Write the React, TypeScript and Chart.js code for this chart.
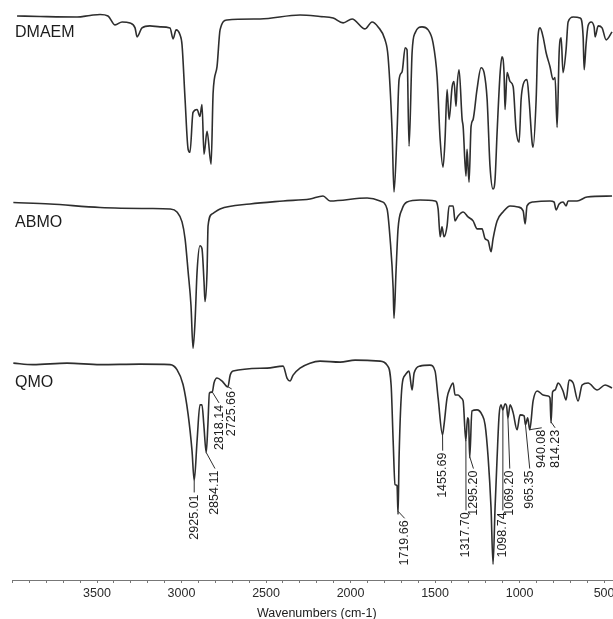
import React, { useEffect, useRef } from "react";
import { Chart, registerables } from "chart.js";

Chart.register(...registerables);

// [wavenumber (cm-1), offset transmittance (arb. units)]
const dmaem: [number, number][] = [
  [3973, 113.4], [3837, 113.3], [3618, 113.2], [3541, 113.5], [3482, 113.7], [3435, 113.4],
  [3393, 111.6], [3352, 112.2], [3305, 112], [3275, 111], [3263, 109.2], [3234, 111],
  [3187, 111.4], [3127, 111.2], [3068, 111], [3050, 108.8], [3032, 110.6], [3009, 109.6],
  [2997, 107.6], [2979, 96.6], [2961, 86.6], [2950, 86], [2932, 94], [2908, 94.6],
  [2891, 93.2], [2879, 95.6], [2867, 85.6], [2849, 90.2], [2825, 83.6], [2813, 98],
  [2790, 103.2], [2772, 110.6], [2731, 112.6], [2535, 112.8], [2299, 113.6], [2181, 113.3],
  [2103, 113], [2044, 112], [1991, 112.8], [1914, 110.8], [1873, 112.2], [1837, 111.2],
  [1796, 108.6], [1778, 105.2], [1754, 90], [1743, 78], [1725, 90], [1713, 100.6],
  [1695, 102.2], [1677, 107], [1666, 106.6], [1654, 87.2], [1636, 106], [1618, 110],
  [1577, 111.2], [1541, 110.6], [1512, 108], [1488, 101.2], [1470, 88.6], [1453, 83],
  [1441, 88.6], [1429, 98.6], [1417, 92.6], [1399, 99.2], [1388, 100.2], [1376, 95.2],
  [1370, 99.2], [1358, 102.6], [1340, 92.6], [1334, 91.2], [1317, 81.2], [1311, 86.6],
  [1299, 80], [1287, 91.2], [1275, 92.6], [1252, 98.6], [1228, 103], [1210, 102],
  [1192, 96.6], [1175, 83.2], [1157, 78.6], [1145, 80.6], [1133, 90], [1115, 102],
  [1104, 105.2], [1092, 102], [1086, 94.6], [1074, 102], [1056, 100.2], [1038, 99.2],
  [1021, 90.6], [1003, 88], [991, 96.6], [979, 99.6], [956, 100.6], [944, 96.6],
  [926, 88], [920, 87], [902, 96.6], [891, 109.2], [879, 111], [861, 109.2],
  [843, 106], [820, 103.2], [802, 100.6], [790, 101], [778, 91], [766, 106],
  [754, 109], [743, 102], [725, 106.6], [713, 112.2], [683, 113.2], [642, 113],
  [624, 109.2], [618, 102.6], [607, 107.6], [595, 111.4], [577, 112.2], [559, 111.2],
  [553, 109.2], [535, 111.4], [512, 111], [488, 108.6], [453, 110.2],
];

const abmo: [number, number][] = [
  [3995, 75.9], [3778, 75.6], [3482, 74.9], [3187, 74.7], [3068, 74.6], [3027, 74],
  [2997, 72], [2979, 68.6], [2961, 62], [2944, 55.2], [2932, 46.6], [2920, 52],
  [2908, 62], [2891, 67.2], [2879, 66.6], [2867, 60], [2861, 56], [2849, 62],
  [2843, 71.2], [2819, 73.6], [2772, 74.6], [2595, 75.6], [2399, 76.2], [2240, 76.6],
  [2163, 77.2], [2121, 76.2], [1902, 76.8], [1825, 76.2], [1784, 74.6], [1766, 68.6],
  [1748, 58.6], [1743, 52.6], [1731, 62], [1719, 70.6], [1695, 74.6], [1666, 76],
  [1589, 76.4], [1500, 76.2], [1482, 74.6], [1470, 69], [1459, 71], [1447, 69],
  [1429, 71.2], [1417, 75.2], [1393, 75.2], [1382, 72.2], [1364, 73.2], [1334, 74],
  [1305, 73], [1275, 72.2], [1251, 70.6], [1222, 70.6], [1204, 68.6], [1186, 68.2],
  [1169, 66], [1157, 68.6], [1133, 72.2], [1098, 74], [1056, 75.2], [1009, 75],
  [979, 74.2], [967, 71.6], [956, 75.2], [920, 76], [820, 76.2], [796, 76],
  [784, 74.4], [766, 75.6], [743, 76], [725, 75.2], [713, 76.2], [660, 76.2],
  [601, 77], [453, 77.2],
];

const qmo: [number, number][] = [
  [3995, 43.6], [3879, 43.3], [3677, 43.6], [3482, 43.3], [3246, 43.4], [3068, 43.3],
  [3027, 42.3], [2991, 39.3], [2961, 33.3], [2938, 26], [2925, 20], [2908, 28],
  [2891, 35.2], [2879, 35.2], [2868, 31.2], [2854, 25.6], [2844, 31.2], [2835, 37.6],
  [2818, 37.8], [2808, 39.6], [2790, 40.6], [2760, 40], [2726, 38.8], [2712, 41.2],
  [2695, 42], [2494, 42.6], [2399, 43], [2376, 40.6], [2358, 40], [2340, 41.2],
  [2299, 42.6], [2240, 43.6], [2181, 44], [2062, 43.8], [1973, 44.2], [1825, 44],
  [1784, 43.2], [1760, 39.2], [1748, 28], [1737, 19.2], [1725, 19], [1719, 13.2],
  [1713, 24.6], [1695, 39.2], [1677, 41.2], [1654, 42], [1636, 38.2], [1624, 41.6],
  [1589, 43], [1530, 43.2], [1500, 42], [1482, 36.6], [1456, 29.2], [1447, 31.2],
  [1429, 36.6], [1411, 38.6], [1393, 39.6], [1382, 37.2], [1364, 37.2], [1346, 36.6],
  [1334, 36], [1318, 28], [1308, 32.6], [1302, 32.2], [1295, 24.6], [1282, 34],
  [1252, 34.2], [1222, 33.2], [1204, 31.2], [1186, 24.6], [1169, 14.6], [1157, 3.2],
  [1145, 14.6], [1133, 24.6], [1121, 33.2], [1110, 35.2], [1099, 34.2], [1086, 35.4],
  [1077, 35], [1069, 32.6], [1056, 35.2], [1038, 33.6], [1015, 30.2], [997, 33.2],
  [973, 33], [965, 31.2], [952, 32.6], [940, 30.2], [920, 36], [896, 38],
  [861, 37.2], [831, 37], [820, 36.6], [814, 31.6], [805, 37.8], [790, 38.2],
  [772, 39.6], [743, 38], [725, 36.2], [707, 40.2], [683, 39.6], [654, 36],
  [630, 39.2], [595, 39.6], [541, 38.2], [494, 39.2], [453, 38.6],
];

const seriesNames = ["DMAEM", "ABMO", "QMO"];
const seriesSpectra = [dmaem, abmo, qmo];
const nameAnchorWn = 3985;
const nameBaselines = [109.1, 71, 38.9];

const peakWavenumbers = [2925.01, 2854.11, 2818.14, 2725.66, 1719.66, 1455.69, 1317.7, 1295.2, 1098.74, 1069.2, 965.35, 940.08, 814.23];
const peakTextCenterWn = [2925, 2802, 2778, 2703, 1680, 1455, 1317, 1273, 1099, 1058, 940, 869, 790];
const peakTextTopLevels = [17.2, 22, 35.2, 38, 12, 25.6, 13.6, 22, 13.6, 22, 22, 30.2, 30.2];

const xTickLabels = [3500, 3000, 2500, 2000, 1500, 1000, 500];
const xMin = 400;
const xMax = 4000;
const minorTickStep = 100;

const FONT = "'Liberation Sans', Arial, Helvetica, sans-serif";
const INK = "#2e2e2e";

function valueAt(data: [number, number][], wn: number): number {
  for (let i = 0; i < data.length - 1; i++) {
    const [x0, y0] = data[i];
    const [x1, y1] = data[i + 1];
    if ((wn <= x0 && wn >= x1) || (wn >= x0 && wn <= x1)) {
      if (x0 === x1) return Math.min(y0, y1);
      return y0 + ((wn - x0) / (x1 - x0)) * (y1 - y0);
    }
  }
  return data[data.length - 1][1];
}

export default function App() {
  const ref = useRef<HTMLCanvasElement>(null);

  useEffect(() => {
    const canvas = ref.current;
    if (!canvas) return;

    const annotations = {
      id: "irAnnotations",
      afterDatasetsDraw(chart: any) {
        const { ctx } = chart;
        const x = chart.scales.x;
        const y = chart.scales.y;
        ctx.save();
        ctx.fillStyle = "#1c1c1c";
        ctx.font = `16px ${FONT}`;
        ctx.textAlign = "left";
        ctx.textBaseline = "alphabetic";
        seriesNames.forEach((n, i) => {
          ctx.fillText(n, x.getPixelForValue(nameAnchorWn), y.getPixelForValue(nameBaselines[i]));
        });

        ctx.strokeStyle = INK;
        ctx.lineWidth = 1;
        ctx.font = `12.5px ${FONT}`;
        peakWavenumbers.forEach((wn, i) => {
          const px = x.getPixelForValue(wn);
          const py = y.getPixelForValue(valueAt(qmo, wn));
          const tx = x.getPixelForValue(peakTextCenterWn[i]);
          const ty = y.getPixelForValue(peakTextTopLevels[i]);
          ctx.beginPath();
          ctx.moveTo(px, py);
          ctx.lineTo(tx, ty - 2);
          ctx.stroke();
          ctx.save();
          ctx.translate(tx, ty);
          ctx.rotate(-Math.PI / 2);
          ctx.textAlign = "right";
          ctx.textBaseline = "middle";
          ctx.fillText(wn.toFixed(2), 0, 0);
          ctx.restore();
        });
        ctx.restore();
      },
    };

    const chart = new Chart(canvas, {
      type: "line",
      data: {
        datasets: seriesSpectra.map((s, i) => ({
          label: seriesNames[i],
          data: s.map(([wx, wy]) => ({ x: wx, y: wy })),
          borderColor: INK,
          borderWidth: 1.6,
          pointRadius: 0,
          cubicInterpolationMode: "monotone",
          fill: false,
        })),
      },
      options: {
        responsive: false,
        maintainAspectRatio: false,
        animation: false,
        events: [],
        layout: { padding: { left: 12.5, right: 4, top: 8, bottom: 0 } },
        plugins: {
          legend: { display: false },
          tooltip: { enabled: false },
        },
        scales: {
          x: {
            type: "linear",
            reverse: true,
            min: xMin,
            max: xMax,
            afterBuildTicks: (axis: any) => {
              const t: { value: number }[] = [];
              for (let v = xMin; v <= xMax; v += minorTickStep) t.push({ value: v });
              axis.ticks = t;
            },
            ticks: {
              autoSkip: false,
              maxRotation: 0,
              minRotation: 0,
              padding: 3,
              color: "#2a2a2a",
              font: { family: FONT, size: 12.5 },
              callback: (v: any) => (xTickLabels.includes(Number(v)) ? String(v) : ""),
            },
            grid: {
              display: true,
              drawOnChartArea: false,
              drawTicks: true,
              tickLength: 3,
              color: "#777",
              lineWidth: 1,
            },
            border: { display: true, color: "#777", width: 1 },
            title: {
              display: true,
              text: "Wavenumbers (cm-1)",
              color: "#1c1c1c",
              font: { family: FONT, size: 12.5 },
              padding: { top: 2, bottom: 0 },
            },
          },
          y: {
            display: false,
            min: 0,
            max: 115,
          },
        },
      },
      plugins: [annotations],
    } as any);

    return () => chart.destroy();
  }, []);

  return (
    <div
      style={{
        position: "fixed",
        left: 0,
        top: 0,
        width: 613,
        height: 619,
        overflow: "hidden",
        background: "#fff",
      }}
    >
      <canvas ref={ref} width={625} height={621} style={{ display: "block" }} />
    </div>
  );
}
